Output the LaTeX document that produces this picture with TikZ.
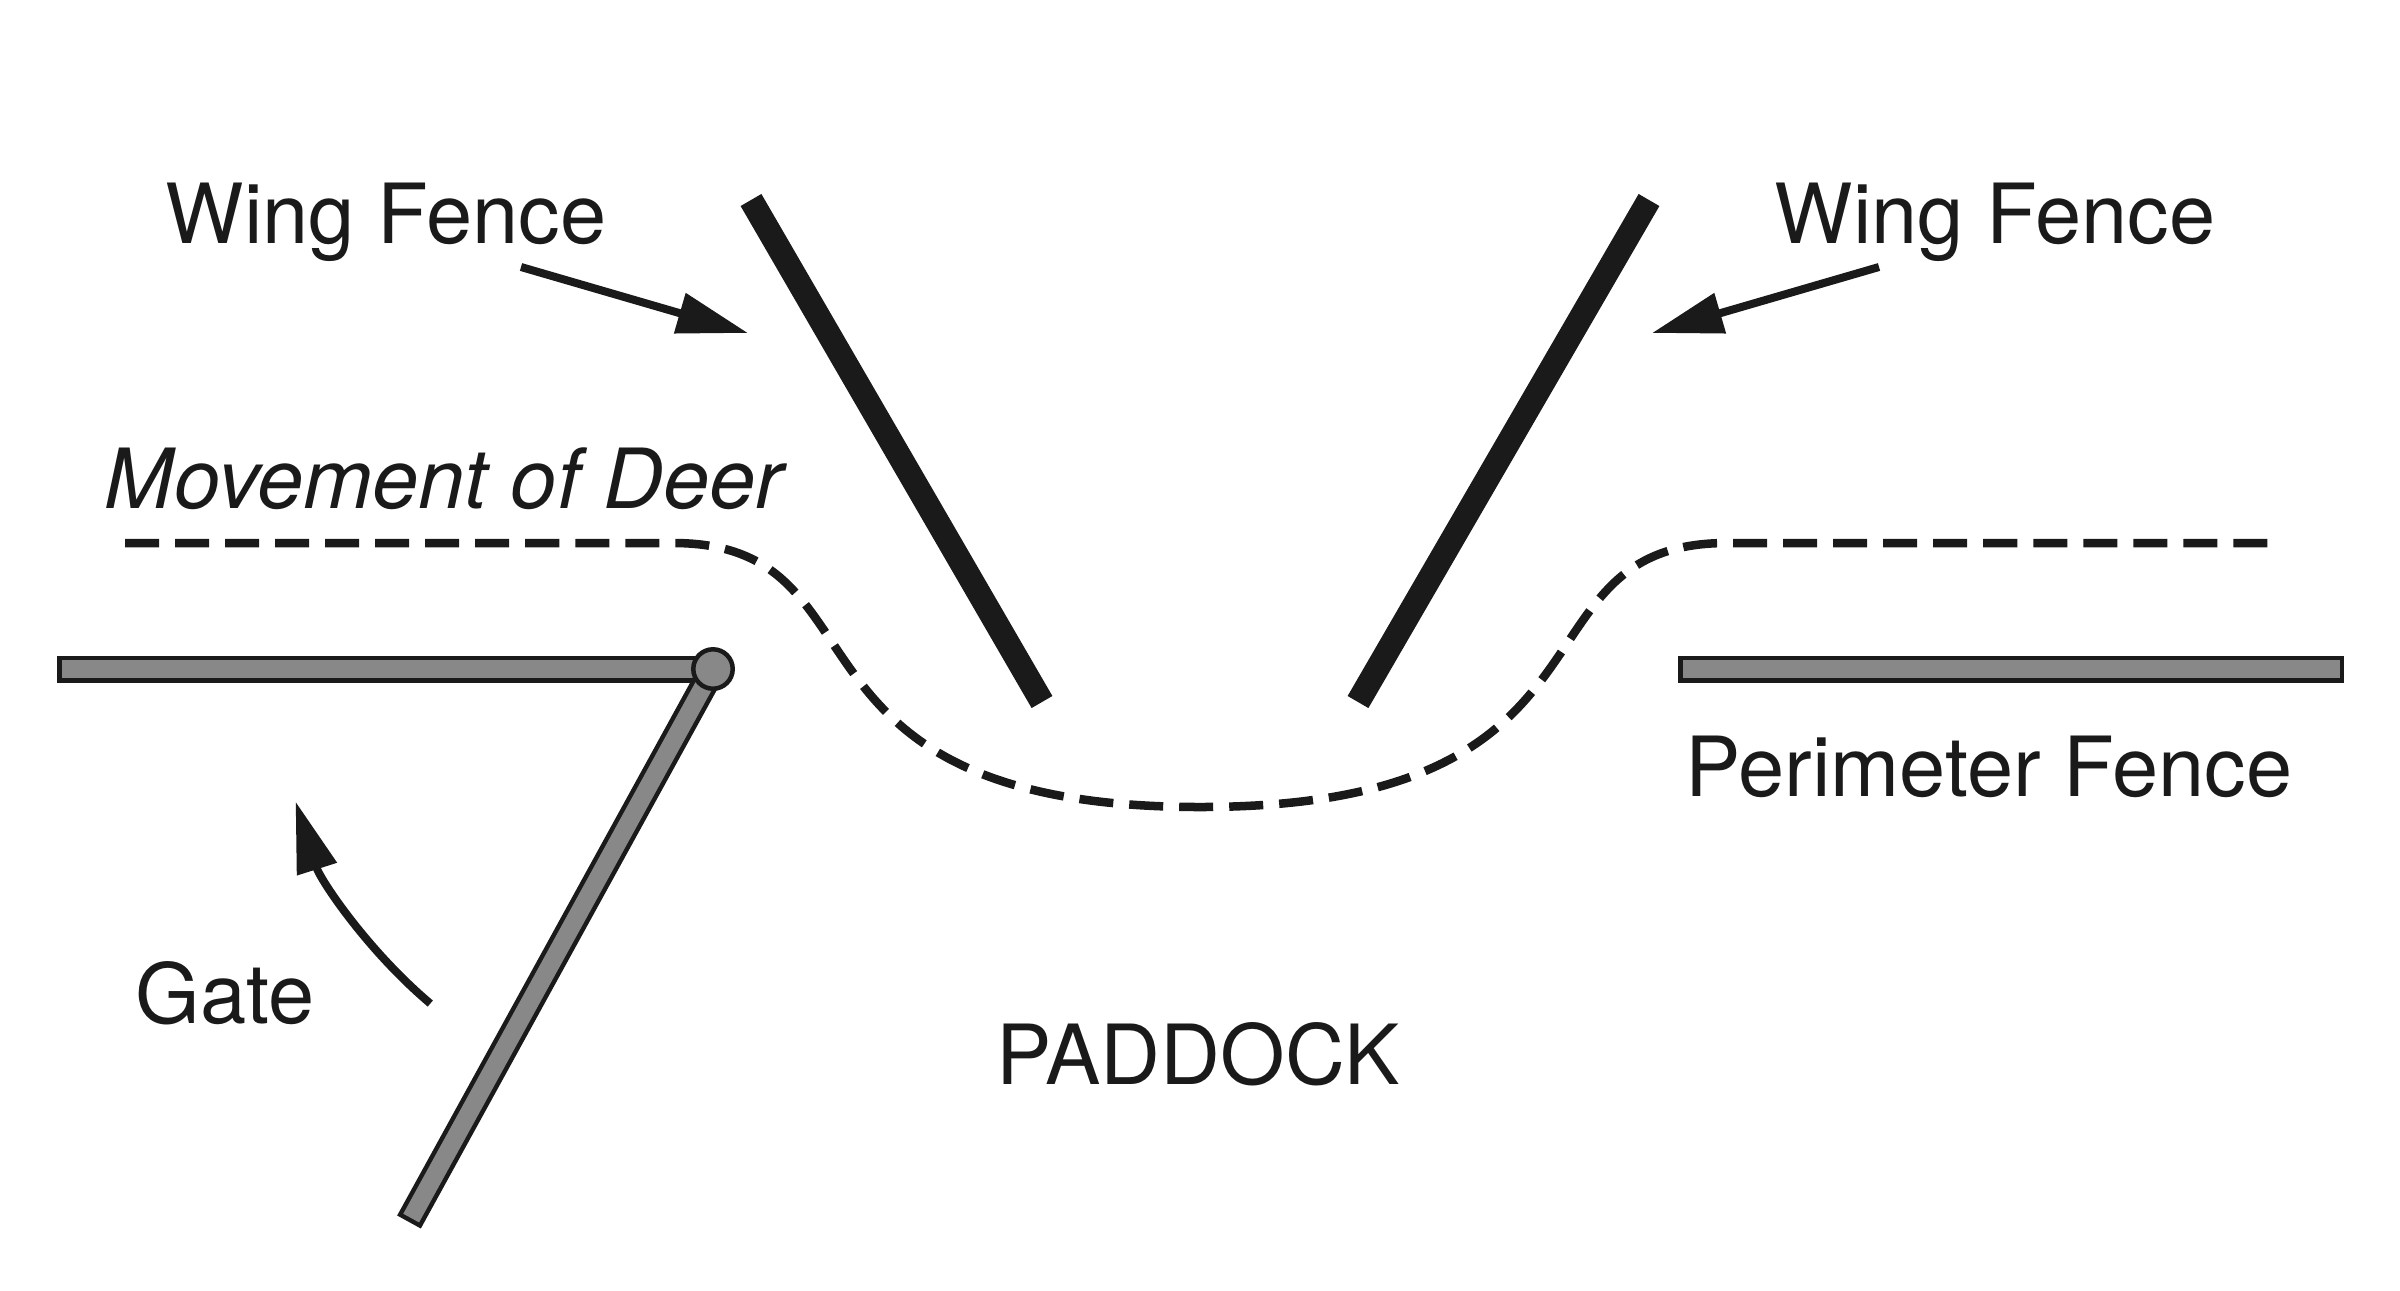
\documentclass[tikz,border=0pt]{standalone}
\usepackage{fontspec}
\setmainfont{TeX Gyre Heros}
\usetikzlibrary{arrows.meta,calc}
\definecolor{ink}{RGB}{26,26,26}
\definecolor{fencegray}{RGB}{136,136,136}
\begin{document}
\begin{tikzpicture}[x=0.01cm,y=-0.01cm,
  lbl/.style={text=ink, font=\fontsize{23.6}{28}\selectfont, inner sep=0pt, anchor=base},
  wing/.style={draw=ink, line width=0.24cm, line cap=butt},
  pointer/.style={draw=ink, line width=0.08cm, -{Triangle[length=0.71cm,width=0.40cm]}},
  trail/.style={draw=ink, line width=0.085cm, dash pattern=on 0.34cm off 0.16cm},
  baroutline/.style={draw=ink, line width=0.27cm, line cap=butt},
  barfill/.style={draw=fencegray, line width=0.18cm, line cap=butt, shorten <=0.045cm, shorten >=0.045cm}]
\fill[white] (0,0) rectangle (2400,1290);
\useasboundingbox (0,0) rectangle (2400,1290);

% coordinates
\coordinate (hinge) at (713,669);
\coordinate (lpend) at (57,669);
\coordinate (rpa) at (1678,669);
\coordinate (rpb) at (2344,669);
\coordinate (gateend) at (409,1222);
\coordinate (lwa) at (751,200);
\coordinate (lwb) at (1042,702);
\coordinate (rwa) at (1649,200);
\coordinate (rwb) at (1358,702);
\coordinate (lars) at (521,267);
\coordinate (lart) at (748,333);
\coordinate (rars) at (1879,267);
\coordinate (rart) at (1652,333);

% wing fences
\draw[wing] (lwa) -- (lwb);
\draw[wing] (rwa) -- (rwb);

% movement of deer
\draw[trail] (125,543) -- (673,543)
  .. controls (896,543) and (759,807) .. (1200,807)
  .. controls (1641,807) and (1504,543) .. (1727,543) -- (2275,543);

% perimeter fences and gate
\draw[baroutline] (lpend) -- (hinge);
\draw[barfill] (lpend) -- (hinge);
\draw[baroutline] (rpa) -- (rpb);
\draw[barfill] (rpa) -- (rpb);
\draw[baroutline] (hinge) -- (gateend);
\draw[barfill] (hinge) -- (gateend);
\filldraw[fill=fencegray, draw=ink, line width=0.045cm] (hinge) circle[radius=0.197cm];

% pointers
\draw[pointer] (lars) -- (lart);
\draw[pointer] (rars) -- (rart);
\draw[pointer] ($(hinge)+(130.2:438)$) arc[start angle=130.2, end angle=162.4, radius=438];

% labels
\node[lbl] (lwl) at (386,243) {Wing Fence};
\node[lbl] (rwl) at (1995,243) {Wing Fence};
\node[lbl, font=\fontsize{23.6}{28}\selectfont\itshape] (mov) at (444,508) {Movement of Deer};
\node[lbl] (perl) at (1989,796) {Perimeter Fence};
\node[lbl] (gatel) at (225,1023) {Gate};
\node[lbl] (padl) at (1198,1084) {PADDOCK};
\end{tikzpicture}
\end{document}
